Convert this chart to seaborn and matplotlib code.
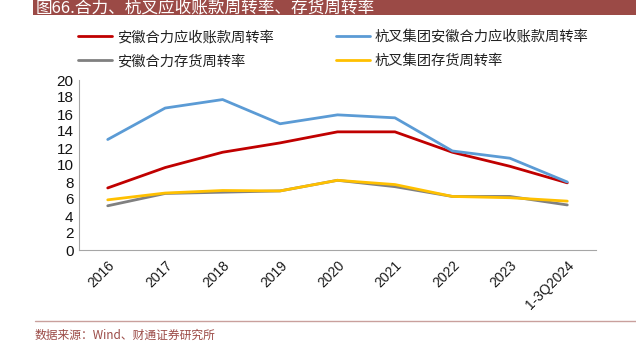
import matplotlib
matplotlib.use("Agg")
import matplotlib.pyplot as plt
import seaborn as sns
import pandas as pd
from matplotlib.lines import Line2D
from matplotlib.patches import Rectangle

categories = ["2016", "2017", "2018", "2019", "2020", "2021", "2022", "2023", "1-3Q2024"]
heli_ar = [7.3, 9.7, 11.5, 12.6, 13.9, 13.9, 11.5, 9.85, 7.9]
hangcha_ar = [13.0, 16.7, 17.7, 14.85, 15.9, 15.55, 11.65, 10.8, 8.0]
heli_inv = [5.2, 6.65, 6.8, 6.95, 8.2, 7.45, 6.3, 6.3, 5.3]
hangcha_inv = [5.9, 6.7, 7.0, 6.95, 8.2, 7.7, 6.3, 6.15, 5.75]

names = ["安徽合力应收账款周转率", "杭叉集团安徽合力应收账款周转率", "安徽合力存货周转率", "杭叉集团存货周转率"]
colors = ["#C00000", "#5B9BD5", "#808080", "#FFC000"]
series = [heli_ar, hangcha_ar, heli_inv, hangcha_inv]

rows = []
for n, vals in zip(names, series):
    for c, v in zip(categories, vals):
        rows.append({"cat": c, "val": v, "series": n})
df = pd.DataFrame(rows)

sns.set_style("white")
plt.rcParams['font.family'] = ['Liberation Sans', 'Noto Sans CJK SC', 'DejaVu Sans']

fig = plt.figure(figsize=(6.36, 3.55), dpi=100)
ax = fig.add_axes([79/636, 1 - 250/355, (596 - 79)/636, (250 - 80)/355])

draw_order = [2, 3, 0, 1]
for i in draw_order:
    sub = df[df["series"] == names[i]]
    sns.lineplot(data=sub, x="cat", y="val", color=colors[i], linewidth=2.0, ax=ax,
                 legend=False, sort=False)

ax.set_xlim(-0.5, len(categories) - 0.5)
ax.set_ylim(0, 20)
ax.set_yticks(range(0, 21, 2))
ax.set_xticks(range(len(categories)))
ax.set_xticklabels(categories, rotation=45, ha='right', rotation_mode='anchor', fontsize=10, color='#1a1a1a')
ax.set_xticks([i - 0.5 for i in range(len(categories) + 1)], minor=True)
ax.tick_params(axis='x', which='major', length=0, pad=6)
ax.tick_params(axis='x', which='minor', length=4, color='#A6A6A6', width=0.8, direction='out')
ax.tick_params(axis='y', length=0, pad=4, labelsize=11, labelcolor='#111111')
ax.set_xlabel("")
ax.set_ylabel("")
for s in ["top", "right"]:
    ax.spines[s].set_visible(False)
for s in ["left", "bottom"]:
    ax.spines[s].set_color('#A6A6A6')
    ax.spines[s].set_linewidth(0.8)

cjk = ['Noto Sans CJK SC', 'DejaVu Sans']
h = [Line2D([0], [0], color=c, linewidth=2.0) for c in colors]
leg1 = fig.legend([h[0], h[2]], [names[0], names[2]], loc='upper left',
                  bbox_to_anchor=(78/636, 1 - 30/355), frameon=False, borderpad=0,
                  borderaxespad=0, handlelength=2.4, handletextpad=0.3, labelspacing=0.72,
                  prop={'family': cjk, 'size': 10.3})
leg2 = fig.legend([h[1], h[3]], [names[1], names[3]], loc='upper left',
                  bbox_to_anchor=(336/636, 1 - 30/355), frameon=False, borderpad=0,
                  borderaxespad=0, handlelength=2.4, handletextpad=0.3, labelspacing=0.72,
                  prop={'family': cjk, 'size': 10.3})
for leg in (leg1, leg2):
    for t in leg.get_texts():
        t.set_color('#222222')

bar_color = '#9B4A46'
fig.patches.append(Rectangle((33/636, 1 - 15/355), 1 - 33/636, 15/355, transform=fig.transFigure,
                             facecolor=bar_color, edgecolor='none', zorder=0))
fig.text(36/636, 1 - 7.5/355, "图66.合力、杭叉应收账款周转率、存货周转率", color='white',
         fontsize=12, va='center', ha='left', family=cjk)

fig.add_artist(Line2D([35/636, 1], [1 - 321/355, 1 - 321/355], transform=fig.transFigure,
                      color='#C9A09D', linewidth=1.0))
fig.text(35/636, 1 - 335/355, "数据来源：Wind、财通证券研究所", color=bar_color,
         fontsize=8.5, va='center', ha='left', family=cjk)

fig.savefig("out.png", dpi=100)
